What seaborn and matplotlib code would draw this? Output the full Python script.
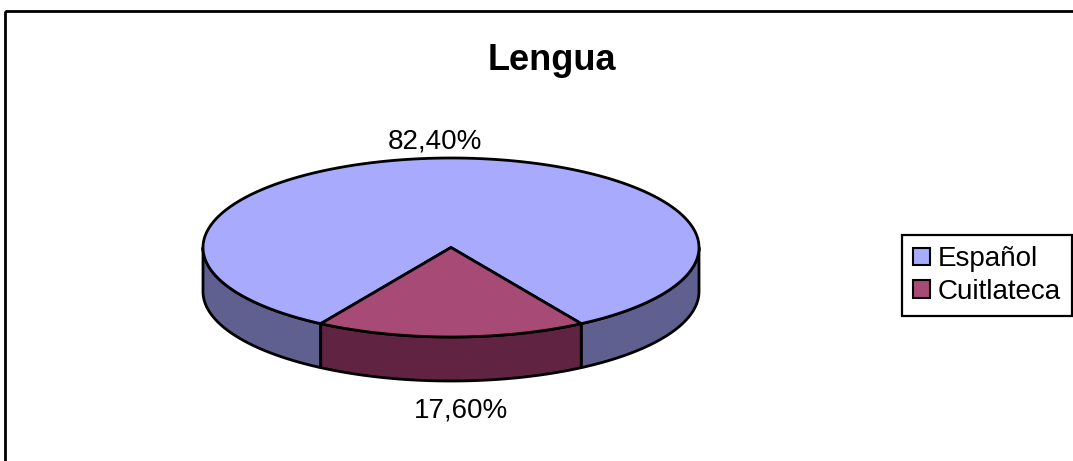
import numpy as np
import matplotlib
matplotlib.use("Agg")
import matplotlib.pyplot as plt
import seaborn as sns
from matplotlib.patches import Polygon, Patch, Rectangle

# datos
categorias = ["Español", "Cuitlateca"]
porcentajes = [82.40, 17.60]
etiquetas = ["82,40%", "17,60%"]
titulo = "Lengua"

colores_sup = ["#A8AAFE", "#A84A76"]
colores_lat = ["#5F608F", "#612342"]

sns.set_theme(style="white")
plt.rcParams["font.family"] = ["Liberation Sans", "DejaVu Sans"]
plt.rcParams["text.color"] = "black"

W, H = 1073, 461
fig = plt.figure(figsize=(W / 100, H / 100), dpi=100)
ax = fig.add_axes([0, 0, 1, 1])
ax.set_xlim(0, W)
ax.set_ylim(H, 0)
ax.axis("off")

# geometria del pastel 3D (en pixeles)
cx, cy, a, b, prof = 451, 247.5, 248, 89.5, 44
lw = 2.0


def punto(theta, dy=0):
    t = np.radians(theta)
    return cx + a * np.cos(t), cy - b * np.sin(t) + dy


def pared(t0, t1, color):
    ts = np.linspace(t0, t1, 80)
    sup = [punto(t) for t in ts]
    inf = [punto(t, prof) for t in ts[::-1]]
    ax.add_patch(Polygon(sup + inf, closed=True, facecolor=color,
                         edgecolor="black", lw=lw, joinstyle="round"))


# angulos de las porciones: la menor centrada abajo
ang_menor = porcentajes[1] * 3.6
ini_c = 270 - ang_menor / 2
fin_c = 270 + ang_menor / 2
rangos = [(fin_c, ini_c + 360), (ini_c, fin_c)]

# paredes laterales (solo mitad frontal)
pared(180, ini_c, colores_lat[0])
pared(fin_c, 360, colores_lat[0])
pared(ini_c, fin_c, colores_lat[1])

# caras superiores
for (t0, t1), col in zip(rangos, colores_sup):
    ts = np.linspace(t0, t1, 200)
    pts = [(cx, cy)] + [punto(t) for t in ts]
    ax.add_patch(Polygon(pts, closed=True, facecolor=col,
                         edgecolor="black", lw=lw, joinstyle="round"))

# etiquetas de porcentaje
ax.text(435, 141, etiquetas[0], ha="center", va="center", fontsize=20,
        color="black")
ax.text(461, 410, etiquetas[1], ha="center", va="center", fontsize=20,
        color="black")

# titulo
ax.text(552, 61, titulo, ha="center", va="center", fontsize=26,
        fontweight="bold", color="black")

# marco exterior
ax.add_patch(Rectangle((4.5, 11.5), W + 20, H + 20, fill=False,
                       edgecolor="black", lw=2, clip_on=True))

# leyenda
handles = [Patch(facecolor=c, edgecolor="black", lw=1.5) for c in colores_sup]
leg = ax.legend(handles, categorias, loc="upper left",
                bbox_to_anchor=(902 / W, 1 - 235 / H),
                bbox_transform=ax.transAxes, fontsize=20, frameon=True,
                fancybox=False, framealpha=1, edgecolor="black",
                handlelength=0.6, handleheight=0.6, handletextpad=0.3,
                borderpad=0.4, labelspacing=0.25, borderaxespad=0)
leg.get_frame().set_linewidth(1.6)
for t in leg.get_texts():
    t.set_color("black")

fig.savefig("out.png", dpi=100)
